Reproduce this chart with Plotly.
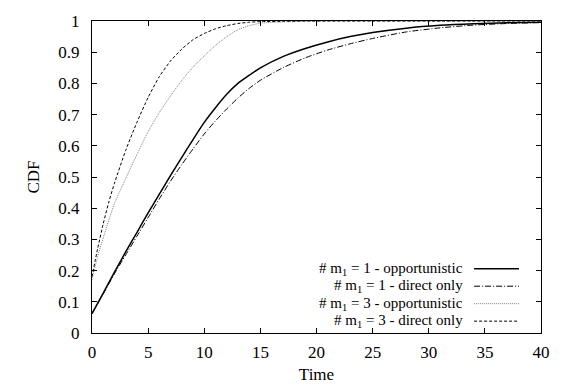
import plotly.graph_objects as go

# ---- data ----
t_m1 = [0, 1, 2, 3, 4, 5, 6, 7, 8, 9, 10, 11, 12, 13, 14, 15, 17, 19, 21, 23, 25, 28, 31, 34, 37, 40]
m1_opportunistic = [0.062, 0.128, 0.195, 0.26, 0.322, 0.385, 0.445, 0.505, 0.563, 0.62, 0.675, 0.722,
                    0.765, 0.80, 0.826, 0.85, 0.886, 0.912, 0.933, 0.95, 0.963, 0.977, 0.986, 0.991,
                    0.994, 0.996]
m1_direct = [0.062, 0.125, 0.19, 0.25, 0.31, 0.37, 0.43, 0.487, 0.54, 0.59, 0.638, 0.68, 0.718, 0.753,
             0.784, 0.81, 0.85, 0.882, 0.907, 0.927, 0.944, 0.965, 0.978, 0.987, 0.992, 0.995]

t_m3 = [0, 0.5, 1, 1.5, 2, 3, 4, 5, 6, 7, 8, 9, 10, 11, 12, 13, 14, 15, 17, 19, 22, 25, 30, 35, 40]
m3_opportunistic = [0.17, 0.245, 0.305, 0.362, 0.415, 0.495, 0.572, 0.645, 0.707, 0.76, 0.81, 0.852,
                    0.888, 0.922, 0.95, 0.972, 0.985, 0.993, 0.997, 0.999, 1.0, 1.0, 1.0, 1.0, 1.0]
m3_direct = [0.18, 0.27, 0.35, 0.42, 0.48, 0.585, 0.675, 0.755, 0.822, 0.872, 0.91, 0.94, 0.96, 0.975,
             0.985, 0.992, 0.996, 0.998, 0.999, 1.0, 1.0, 1.0, 1.0, 1.0, 1.0]

x_ticks = [0, 5, 10, 15, 20, 25, 30, 35, 40]
y_ticks = [0, 0.1, 0.2, 0.3, 0.4, 0.5, 0.6, 0.7, 0.8, 0.9, 1]
y_tick_text = ["0", "0.1", "0.2", "0.3", "0.4", "0.5", "0.6", "0.7", "0.8", "0.9", "1"]

labels = ["# m<sub>1</sub> = 1 - opportunistic", "# m<sub>1</sub> = 1 - direct only",
          "# m<sub>1</sub> = 3 - opportunistic", "# m<sub>1</sub> = 3 - direct only"]

styles = [
    dict(color="black", width=1.5, dash="solid"),
    dict(color="black", width=1, dash="6px,2px,1px,2px"),
    dict(color="#808080", width=1, dash="1px,1px"),
    dict(color="black", width=1, dash="3px,2px"),
]

FONT = "Liberation Serif, DejaVu Serif, serif"

fig = go.Figure()
series = [(t_m1, m1_opportunistic), (t_m1, m1_direct), (t_m3, m3_opportunistic), (t_m3, m3_direct)]
for (xs, ys), name, st in zip(series, labels, styles):
    fig.add_trace(go.Scatter(x=xs, y=ys, mode="lines", name=name, line=st,
                             line_shape="spline", line_smoothing=0.6, showlegend=False))

# custom legend (text right-aligned, sample line on the right, like gnuplot)
row_y = [0.206, 0.150, 0.094, 0.038]
for lab, st, yy in zip(labels, styles, row_y):
    fig.add_annotation(xref="paper", yref="paper", x=0.828, y=yy, text=lab, showarrow=False,
                       xanchor="right", yanchor="middle", borderpad=0,
                       font=dict(family=FONT, size=15, color="black"))
    fig.add_shape(type="line", xref="paper", yref="paper", x0=0.851, x1=0.951, y0=yy, y1=yy,
                  line=st)

axis_common = dict(showgrid=False, zeroline=False, showline=True, linecolor="black", linewidth=1,
                   mirror="allticks", ticks="inside", ticklen=5, tickcolor="black",
                   tickfont=dict(family=FONT, size=17, color="black"))

fig.update_xaxes(range=[0, 40], tickvals=x_ticks, ticklabelstandoff=4,
                 title=dict(text="Time", font=dict(family=FONT, size=17, color="black"), standoff=6),
                 **axis_common)
fig.update_yaxes(range=[0, 1], tickvals=y_ticks, ticktext=y_tick_text, ticklabelstandoff=8,
                 title=dict(text="CDF", font=dict(family=FONT, size=17, color="black"), standoff=14),
                 **axis_common)

fig.update_layout(width=563, height=392, margin=dict(l=92, r=22, t=12, b=56),
                  paper_bgcolor="white", plot_bgcolor="white", showlegend=False,
                  font=dict(family=FONT, color="black"))

fig.write_html("out.html")
